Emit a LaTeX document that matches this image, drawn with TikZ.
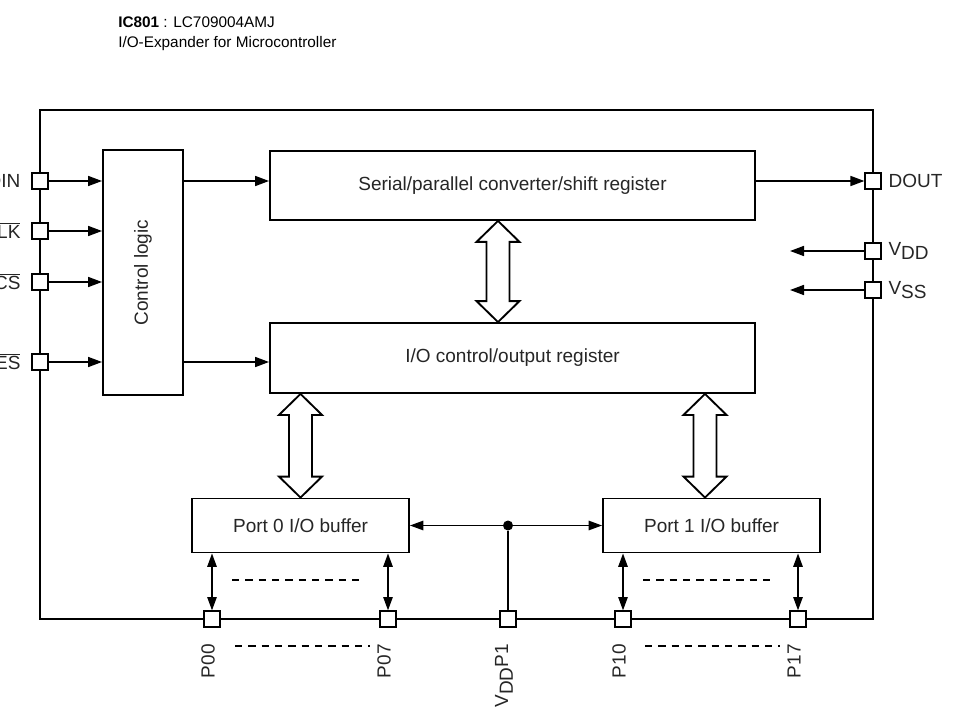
\documentclass[tikz,border=0pt]{standalone}
\usepackage{fontspec}
\setmainfont{Liberation Sans}
\usetikzlibrary{arrows.meta,positioning,calc}
\newcommand{\lowsub}[1]{\raisebox{-3.5pt}{#1}}
\newcommand{\negsig}[1]{$\overline{\mbox{#1}}$}
% wide two-way bus arrow, tip #1 on top, tip #2 below
\newcommand{\busarrow}[2]{%
  \draw[bus] (#1) -- ($(#1)+(21.5,21)$) -- ($(#1)+(11.5,21)$) -- ($(#2)+(11.5,-21)$)
    -- ($(#2)+(21.5,-21)$) -- (#2) -- ($(#2)+(-21.5,-21)$) -- ($(#2)+(-11.5,-21)$)
    -- ($(#1)+(-11.5,21)$) -- ($(#1)+(-21.5,21)$) -- cycle;}
\begin{document}
\begin{tikzpicture}[x=0.75pt,y=-0.75pt,
  font=\fontsize{14.25}{17}\selectfont,
  box/.style={draw,line width=1.4pt,fill=white,inner sep=0pt,text=black!85},
  pad/.style={draw,line width=1.4pt,fill=white,minimum size=11.5pt,inner sep=0pt},
  sig/.style={line width=1.2pt,-{Triangle[length=10.5pt,width=7.5pt]}},
  twoway/.style={line width=1.2pt,{Triangle[length=10pt,width=7pt]}-{Triangle[length=10pt,width=7pt]}},
  bus/.style={draw,line width=1.4pt,fill=white,line join=miter},
  dots/.style={line width=1.2pt,dash pattern=on 5.5pt off 4.5pt},
  lbl/.style={inner sep=0pt,text=black!85},
  title/.style={inner sep=0pt,font=\fontsize{11.5}{14}\selectfont}]
\useasboundingbox (0,0) rectangle (963,720);

\node[title,anchor=base west] (ic) at (118,28) {\textbf{IC801} : LC709004AMJ};
\node[title,anchor=base west] (desc) at (118,48) {I/O-Expander for Microcontroller};

\draw[line width=1.4pt] (40,110) rectangle (873,619);

% blocks
\node[box,minimum width=60pt,minimum height=183.75pt] (ctrl) at (143,272.5) {};
\node[lbl,rotate=90] at (ctrl) {Control logic};
\node[box,minimum width=363.75pt,minimum height=51.75pt] (sp) at (512.5,185.5) {Serial/parallel converter/shift register};
\node[box,minimum width=363.75pt,minimum height=52.5pt] (ioc) at (512.5,358) {I/O control/output register};
\node[box,minimum width=162.75pt,minimum height=40.5pt] (p0) at (300.5,525.5) {Port 0 I/O buffer};
\node[box,minimum width=162.75pt,minimum height=40.5pt] (p1) at (711.5,525.5) {Port 1 I/O buffer};

% left pins
\node[pad] (din) at (40,181) {};
\node[pad] (sclk) at (40,231) {};
\node[pad] (cs) at (40,282) {};
\node[pad] (res) at (40,362) {};
\node[lbl,left=8pt of din] {DIN};
\node[lbl,left=8pt of sclk] {\negsig{SCLK}};
\node[lbl,left=8pt of cs] {\negsig{CS}};
\node[lbl,left=8pt of res] {\negsig{RES}};
\foreach \p in {din,sclk,cs,res}
  \draw[sig] (\p.east) -- (\p -| ctrl.west);
\draw[sig] (din -| ctrl.east) -- (din -| sp.west);
\draw[sig] (res -| ctrl.east) -- (res -| ioc.west);

% right pins
\node[pad] (dout) at (873,181) {};
\node[pad] (vdd) at (873,251) {};
\node[pad] (vss) at (873,290) {};
\node[lbl,right=5pt of dout] {DOUT};
\node[lbl,right=5pt of vdd] {V\lowsub{DD}};
\node[lbl,right=5pt of vss] {V\lowsub{SS}};
\coordinate (vddend) at (790,251);
\coordinate (vssend) at (790,290);
\draw[sig] (dout -| sp.east) -- (dout.west);
\draw[sig] (vdd.west) -- (vddend);
\draw[sig] (vss.west) -- (vssend);

% buses
\coordinate (busx) at (498,0);
\coordinate (busr) at (705,0);
\busarrow{sp.south -| busx}{ioc.north -| busx}
\busarrow{ioc.south -| p0.north}{p0.north}
\busarrow{ioc.south -| busr}{p1.north -| busr}

% bottom pins
\foreach \n/\x in {p00/212,p07/388,vddp/508,p10/623,p17/798}
  \node[pad] (\n) at (\x,619) {};
\foreach \n/\t in {p00/P00,p07/P07,p10/P10,p17/P17}
  \node[lbl,rotate=90,anchor=east] at ($(\n)+(-4,25)$) {\t};
\node[lbl,rotate=90,anchor=east] at ($(vddp)+(-4,25)$) {V\lowsub{DD}P1};
\foreach \n in {p00,p07}
  \draw[twoway] (p0.south -| \n) -- (\n.north);
\foreach \n in {p10,p17}
  \draw[twoway] (p1.south -| \n) -- (\n.north);

\node[circle,fill,inner sep=0pt,minimum size=7.5pt] (jn) at (p0.east -| vddp) {};
\draw[twoway] (p0.east) -- (p1.west);
\draw[line width=1.2pt] (jn) -- (vddp.north);

\draw[dots] (232,580) -- (365,580);
\draw[dots] (643,580) -- (776,580);
\draw[dots] (235,646) -- (370,646);
\draw[dots] (645,646) -- (780,646);
\end{tikzpicture}
\end{document}
